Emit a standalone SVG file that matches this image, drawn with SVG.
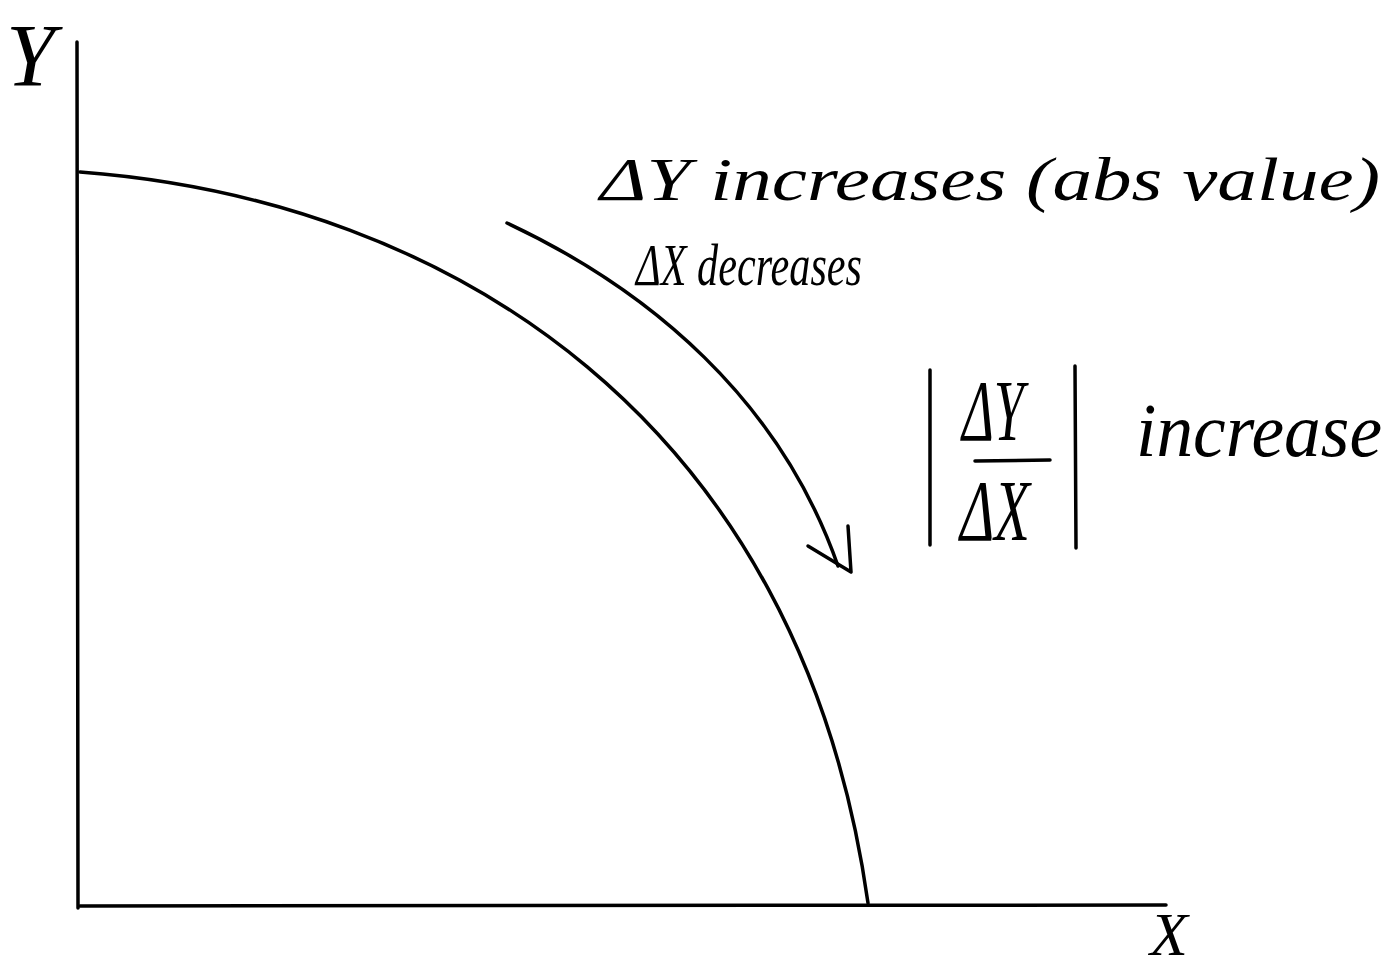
<svg xmlns="http://www.w3.org/2000/svg" width="1397" height="972" viewBox="0 0 1397 972">
<style>
.ln{fill:none;stroke:#000;stroke-width:3.5;stroke-linecap:round;stroke-linejoin:round}
.t{font-family:"Liberation Serif",serif;font-style:italic;fill:#000}
</style>
<rect width="1397" height="972" fill="#fff"/>
<g id="axes">
<path class="ln" d="M77,42 L78,908"/>
<path class="ln" d="M80,906 L1166,905"/>
<text id="ylabel" class="t" x="6" y="85" font-size="88">Y</text>
<text id="xlabel" class="t" x="1150" y="955" font-size="62">X</text>
</g>
<g id="curve">
<path class="ln" d="M80,172 C450,200 800,420 868,903"/>
</g>
<g id="connectors">
<path class="ln" d="M507,223 C650,290 780,400 838,566"/>
<path class="ln" d="M808,546 L851,572 L848,526"/>
</g>
<g id="label1">
<text class="t" x="600" y="200" font-size="62" textLength="780" lengthAdjust="spacingAndGlyphs">ΔY increases (abs value)</text>
<text class="t" x="636" y="285" font-size="60" textLength="226" lengthAdjust="spacingAndGlyphs">ΔX decreases</text>
</g>
<g id="ratio">
<path class="ln" d="M930,370 L930,545"/>
<path class="ln" d="M1075,366 L1076,548"/>
<text class="t" x="962" y="440" font-size="86" textLength="62" lengthAdjust="spacingAndGlyphs">ΔY</text>
<path class="ln" d="M975,461 L1050,460"/>
<text class="t" x="960" y="540" font-size="86" textLength="70" lengthAdjust="spacingAndGlyphs">ΔX</text>
<text class="t" x="1136" y="456" font-size="76" textLength="246" lengthAdjust="spacingAndGlyphs">increase</text>
</g>
</svg>
